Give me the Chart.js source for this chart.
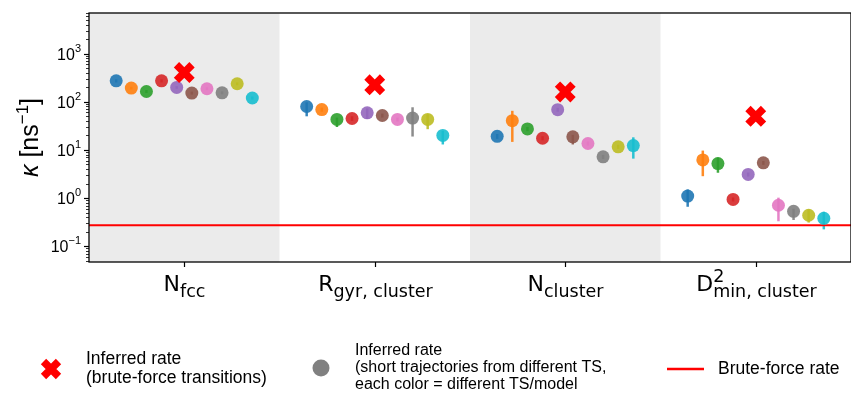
<!DOCTYPE html>
<html>
<head>
<meta charset="utf-8">
<script src="https://cdn.jsdelivr.net/npm/chart.js@4.4.1/dist/chart.umd.min.js"></script>
<style>
  html, body { margin: 0; padding: 0; background: #fff; overflow: hidden; }
  canvas { display: block; }
</style>
</head>
<body>
<canvas id="chart" width="851" height="394"></canvas>
<script>
// category labels (main letter, subscript, superscript)
const catMain = ['N', 'R', 'N', 'D'];
const catSub = ['fcc', 'gyr, cluster', 'cluster', 'min, cluster'];
const catSup = ['', '', '', '2'];

// inferred rate from brute-force transitions (red X), one per category
const bruteInferred = [406, 226, 160, 50];
// brute-force rate (red line)
const bruteRate = 0.274;

// short trajectories, one value per TS/model in each category
const rateNfcc = [273, 193, 164, 273, 199, 152, 187, 154, 237, 120];
const lowNfcc  = [252, 180, 152, 252, 186, 141, 174, 143, 220, 111];
const highNfcc = [294, 206, 176, 294, 212, 163, 200, 165, 254, 129];

const rateRgyr = [80, 69, 43, 45, 59, 52, 43, 46, 43, 20];
const lowRgyr  = [50, 62, 30, 40, 44, 47, 39, 19, 27, 13];
const highRgyr = [98, 76, 47, 50, 73, 57, 47, 77, 55, 25];

const rateNcl = [19.2, 40.6, 27.3, 17.5, 68.6, 18.7, 13.6, 7.2, 11.6, 12.3];
const lowNcl  = [17, 14.7, 24.5, 15.8, 62, 13, 12.3, 6.5, 10.5, 6.6];
const highNcl = [21.5, 65, 30, 19.3, 75, 20.6, 15, 7.9, 12.8, 18.3];

const rateD2 = [1.1, 6.2, 5.2, 0.94, 3.1, 5.4, 0.71, 0.53, 0.44, 0.38];
const lowD2  = [0.66, 2.85, 3.36, 0.85, 2.8, 4.9, 0.33, 0.35, 0.31, 0.224];
const highD2 = [1.51, 9.7, 6.9, 1.03, 3.4, 5.9, 1.02, 0.6, 0.58, 0.52];

const rates = [rateNfcc, rateRgyr, rateNcl, rateD2];
const lows = [lowNfcc, lowRgyr, lowNcl, lowD2];
const highs = [highNfcc, highRgyr, highNcl, highD2];

const tsColors = ['#1f77b4', '#ff7f0e', '#2ca02c', '#d62728', '#9467bd',
                  '#8c564b', '#e377c2', '#7f7f7f', '#bcbd22', '#17becf'];
const shaded = [0, 2];

const slotWidth = 0.0794;

let datasets = [];

datasets.push({
  type: 'line',
  data: [{ x: -0.5, y: bruteRate }, { x: 3.5, y: bruteRate }],
  borderColor: '#ff0000',
  borderWidth: 2,
  pointRadius: 0,
  order: 30
});

tsColors.forEach((c, j) => {
  datasets.push({
    data: rates.map((r, i) => ({ x: i + (j - 4.5) * slotWidth, y: r[j], lo: lows[i][j], hi: highs[i][j] })),
    backgroundColor: c + 'e6',
    borderWidth: 0,
    pointRadius: 6.5,
    errorBars: true,
    errColor: c + 'e6',
    order: 20
  });
});

datasets.push({
  data: bruteInferred.map((v, i) => ({ x: i, y: v })),
  pointStyle: 'crossRot',
  pointRadius: 11,
  borderColor: '#ff0000',
  borderWidth: 7.5,
  order: 10
});

const sup = k => (k < 0 ? '\u2212' + Math.abs(k) : '' + k);

const axesPlugin = {
  id: 'axes',
  beforeDatasetsDraw(chart) {
    const { ctx, chartArea: a, scales: { x, y } } = chart;
    ctx.save();
    ctx.fillStyle = '#ebebeb';
    shaded.forEach(i => {
      const x0 = x.getPixelForValue(i - 0.5), x1 = x.getPixelForValue(i + 0.5);
      ctx.fillRect(x0, a.top, x1 - x0, a.bottom - a.top);
    });
    // error bars under the markers
    ctx.lineWidth = 2.5;
    chart.data.datasets.forEach(ds => {
      if (!ds.errorBars) return;
      ctx.strokeStyle = ds.errColor;
      ds.data.forEach(p => {
        const px = x.getPixelForValue(p.x);
        ctx.beginPath();
        ctx.moveTo(px, y.getPixelForValue(p.lo));
        ctx.lineTo(px, y.getPixelForValue(p.hi));
        ctx.stroke();
      });
    });
    ctx.restore();
  },
  afterDraw(chart) {
    const { ctx, chartArea: a, scales: { x, y } } = chart;
    ctx.save();
    ctx.strokeStyle = '#000';
    ctx.fillStyle = '#000';

    // y ticks
    for (let k = -2; k <= 3; k++) {
      for (let m = 1; m <= 9; m++) {
        const v = m * Math.pow(10, k);
        if (v < y.min || v > y.max) continue;
        const py = Math.round(y.getPixelForValue(v)) + 0.5;
        ctx.lineWidth = m === 1 ? 1.2 : 0.8;
        ctx.beginPath();
        ctx.moveTo(a.left - (m === 1 ? 5 : 3), py);
        ctx.lineTo(a.left, py);
        ctx.stroke();
        if (m === 1) {
          ctx.textBaseline = 'middle';
          ctx.textAlign = 'left';
          ctx.font = '11px "Liberation Sans"';
          const e = sup(k), we = ctx.measureText(e).width;
          ctx.font = '16px "Liberation Sans"';
          const wb = ctx.measureText('10').width;
          const right = a.left - 8;
          ctx.fillText('10', right - we - wb, py + 1);
          ctx.font = '11px "Liberation Sans"';
          ctx.fillText(e, right - we, py - 6);
        }
      }
    }

    // y title
    ctx.save();
    ctx.translate(29, (a.top + a.bottom) / 2);
    ctx.rotate(-Math.PI / 2);
    ctx.textBaseline = 'alphabetic';
    ctx.textAlign = 'left';
    const parts = [
      ['italic 25px "Liberation Sans"', '\u03ba ', 0],
      ['25px "Liberation Sans"', '[ns', 0],
      ['17px "Liberation Sans"', '\u22121', -10],
      ['25px "Liberation Sans"', ']', 0]
    ];
    let tw = 0;
    parts.forEach(p => { ctx.font = p[0]; tw += ctx.measureText(p[1]).width; });
    let cx = -tw / 2;
    parts.forEach(p => {
      ctx.font = p[0];
      ctx.fillText(p[1], cx, 9 + p[2]);
      cx += ctx.measureText(p[1]).width;
    });
    ctx.restore();

    // x ticks and labels
    catMain.forEach((lab, i) => {
      const px = Math.round(x.getPixelForValue(i)) + 0.5;
      ctx.lineWidth = 1.2;
      ctx.beginPath();
      ctx.moveTo(px, a.bottom);
      ctx.lineTo(px, a.bottom + 5);
      ctx.stroke();
      ctx.textBaseline = 'alphabetic';
      ctx.textAlign = 'left';
      ctx.font = '22px "DejaVu Sans"';
      const wm = ctx.measureText(lab).width;
      ctx.font = '17.5px "DejaVu Sans"';
      const ws = ctx.measureText(catSub[i]).width;
      const wp = ctx.measureText(catSup[i]).width;
      const left = px - (wm + Math.max(ws, wp)) / 2;
      ctx.font = '22px "DejaVu Sans"';
      ctx.fillText(lab, left, 291);
      ctx.font = '17.5px "DejaVu Sans"';
      ctx.fillText(catSub[i], left + wm, 297);
      if (catSup[i]) ctx.fillText(catSup[i], left + wm, 282);
    });

    // frame
    ctx.lineWidth = 1.3;
    ctx.strokeRect(a.left, a.top, a.right - a.left, a.bottom - a.top);

    // legend
    ctx.textBaseline = 'middle';
    ctx.textAlign = 'left';
    ctx.fillStyle = '#000';
    ctx.strokeStyle = '#ff0000';
    ctx.lineWidth = 7.5;
    const lx = 51, ly = 369, r = 7.5;
    ctx.beginPath();
    ctx.moveTo(lx - r, ly - r); ctx.lineTo(lx + r, ly + r);
    ctx.moveTo(lx - r, ly + r); ctx.lineTo(lx + r, ly - r);
    ctx.stroke();
    ctx.font = '17.5px "Liberation Sans"';
    ctx.fillText('Inferred rate', 86, 359);
    ctx.fillText('(brute-force transitions)', 86, 378);

    ctx.fillStyle = '#808080';
    ctx.beginPath();
    ctx.arc(321, 368, 8.5, 0, Math.PI * 2);
    ctx.fill();
    ctx.fillStyle = '#000';
    ctx.font = '16px "Liberation Sans"';
    ctx.fillText('Inferred rate', 355, 351);
    ctx.fillText('(short trajectories from different TS,', 355, 368);
    ctx.fillText('each color = different TS/model', 355, 385);

    ctx.lineWidth = 2.5;
    ctx.beginPath();
    ctx.moveTo(667, 369); ctx.lineTo(704, 369);
    ctx.stroke();
    ctx.font = '17.5px "Liberation Sans"';
    ctx.fillText('Brute-force rate', 718, 369);
    ctx.restore();
  }
};

new Chart(document.getElementById('chart'), {
  type: 'scatter',
  data: { datasets: datasets },
  options: {
    responsive: false,
    maintainAspectRatio: false,
    animation: false,
    events: [],
    layout: { autoPadding: false, padding: { left: 89, top: 13, right: 0, bottom: 132 } },
    plugins: { legend: { display: false }, tooltip: { enabled: false } },
    scales: {
      x: { type: 'linear', min: -0.5, max: 3.5, display: false },
      y: { type: 'logarithmic', min: 0.047, max: 7000, display: false }
    }
  },
  plugins: [axesPlugin]
});
</script>
</body>
</html>
